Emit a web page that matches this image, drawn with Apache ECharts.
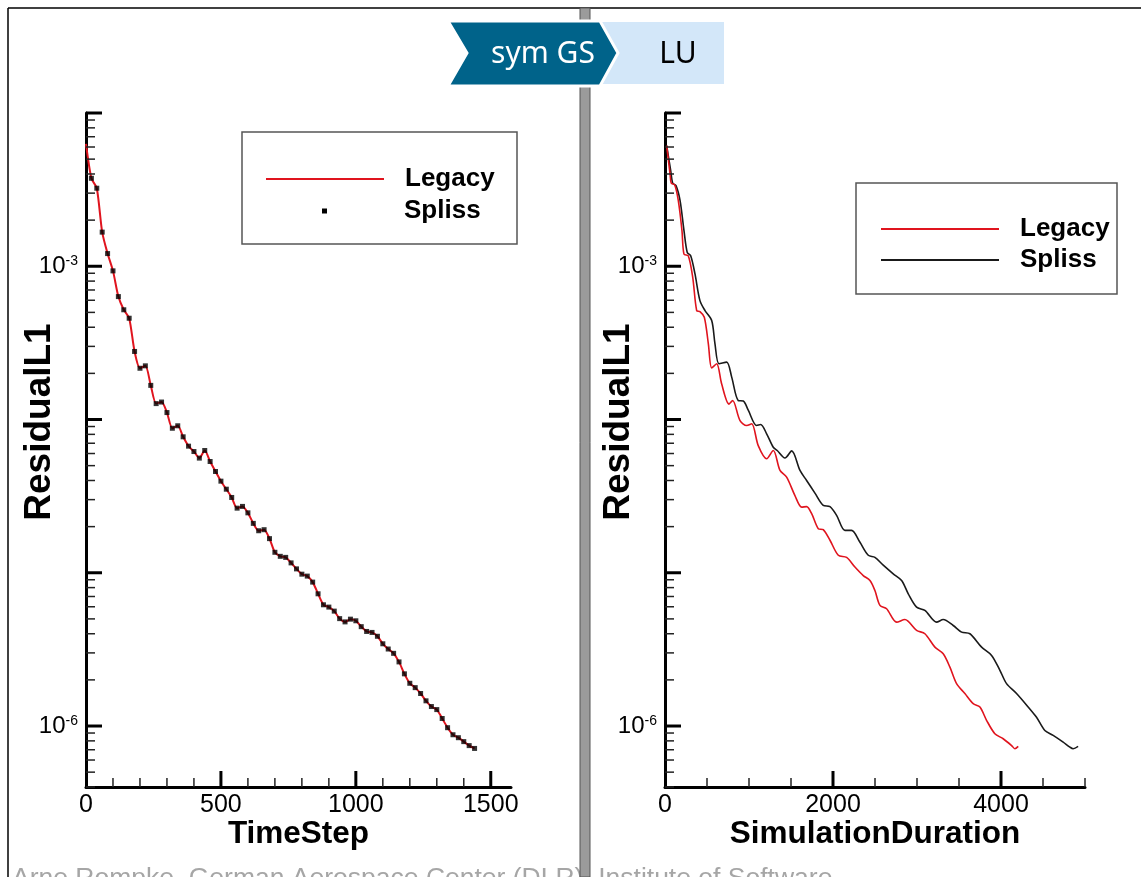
<!DOCTYPE html>
<html><head><meta charset="utf-8">
<script src="https://cdn.jsdelivr.net/npm/echarts@6/dist/echarts.min.js"></script>
<style>html,body{margin:0;padding:0;background:#fff}#c{width:1141px;height:877px}</style>
</head><body><div id="c"></div>
<script>
// ---------------- data ----------------
// Left panel: ResidualL1 vs TimeStep (Legacy line, Spliss markers every 20 steps)
const timeSteps = [0,20,40,60,80,100,120,140,160,180,200,220,240,260,280,300,320,340,360,380,400,420,440,460,480,500,520,540,560,580,600,620,640,660,680,700,720,740,760,780,800,820,840,860,880,900,920,940,960,980,1000,1020,1040,1060,1080,1100,1120,1140,1160,1180,1200,1220,1240,1260,1280,1300,1320,1340,1360,1380,1400,1420,1440];
const legacyByStep = [6.28e-3,3.75e-3,3.23e-3,1.67e-3,1.21e-3,9.33e-4,6.34e-4,5.20e-4,4.58e-4,2.78e-4,2.16e-4,2.24e-4,1.67e-4,1.27e-4,1.30e-4,1.11e-4,8.77e-5,9.10e-5,7.71e-5,6.70e-5,6.18e-5,5.60e-5,6.28e-5,5.32e-5,4.58e-5,3.96e-5,3.51e-5,3.10e-5,2.64e-5,2.71e-5,2.46e-5,2.10e-5,1.88e-5,1.91e-5,1.67e-5,1.36e-5,1.28e-5,1.26e-5,1.16e-5,1.06e-5,9.79e-6,9.51e-6,8.69e-6,7.29e-6,6.18e-6,5.97e-6,5.62e-6,5.02e-6,4.78e-6,4.98e-6,4.86e-6,4.45e-6,4.14e-6,4.08e-6,3.85e-6,3.44e-6,3.18e-6,2.98e-6,2.62e-6,2.19e-6,1.90e-6,1.78e-6,1.63e-6,1.46e-6,1.34e-6,1.28e-6,1.12e-6,9.75e-7,8.77e-7,8.39e-7,7.91e-7,7.45e-7,7.14e-7];
const splissByStep = [6.28e-3,3.75e-3,3.23e-3,1.67e-3,1.21e-3,9.33e-4,6.34e-4,5.20e-4,4.58e-4,2.78e-4,2.16e-4,2.24e-4,1.67e-4,1.27e-4,1.30e-4,1.11e-4,8.77e-5,9.10e-5,7.71e-5,6.70e-5,6.18e-5,5.60e-5,6.28e-5,5.32e-5,4.58e-5,3.96e-5,3.51e-5,3.10e-5,2.64e-5,2.71e-5,2.46e-5,2.10e-5,1.88e-5,1.91e-5,1.67e-5,1.36e-5,1.28e-5,1.26e-5,1.16e-5,1.06e-5,9.79e-6,9.51e-6,8.69e-6,7.29e-6,6.18e-6,5.97e-6,5.62e-6,5.02e-6,4.78e-6,4.98e-6,4.86e-6,4.45e-6,4.14e-6,4.08e-6,3.85e-6,3.44e-6,3.18e-6,2.98e-6,2.62e-6,2.19e-6,1.90e-6,1.78e-6,1.63e-6,1.46e-6,1.34e-6,1.28e-6,1.12e-6,9.75e-7,8.77e-7,8.39e-7,7.91e-7,7.45e-7,7.14e-7];

// Right panel: ResidualL1 vs SimulationDuration
const legacyDuration = [20,60,75,115,158,202,226,277,330,377,416,468,516,556,615,674,762,805,893,972,1032,1110,1210,1289,1369,1448,1547,1627,1686,1746,1825,1884,1964,2063,2162,2261,2360,2440,2499,2559,2638,2757,2856,2995,3094,3213,3312,3392,3471,3570,3669,3749,3828,3927,4026,4126,4165,4205];
const legacyResidual = [6.12e-3,4.01e-3,3.48e-3,3.40e-3,2.69e-3,1.71e-3,1.20e-3,1.17e-3,8.47e-4,5.14e-4,5.06e-4,4.65e-4,3.12e-4,2.17e-4,2.31e-4,1.71e-4,1.26e-4,1.33e-4,9.84e-5,9.14e-5,9.38e-5,6.76e-5,5.55e-5,6.28e-5,4.65e-5,4.21e-5,3.19e-5,2.68e-5,2.70e-5,2.43e-5,1.94e-5,1.91e-5,1.63e-5,1.30e-5,1.26e-5,1.09e-5,9.59e-6,8.91e-6,7.66e-6,6.12e-6,5.82e-6,4.76e-6,4.95e-6,4.21e-6,4.00e-6,3.27e-6,2.96e-6,2.42e-6,1.89e-6,1.63e-6,1.40e-6,1.33e-6,1.09e-6,8.91e-7,8.26e-7,7.46e-7,7.11e-7,7.36e-7];
const splissDuration = [20,68,92,131,179,226,265,306,357,416,476,556,595,643,734,794,872,932,991,1091,1139,1210,1289,1336,1428,1508,1607,1686,1785,1884,1964,2043,2142,2221,2321,2420,2499,2598,2717,2817,2896,2995,3094,3233,3312,3431,3531,3630,3769,3888,3987,4066,4185,4324,4423,4522,4621,4740,4820,4859,4918];
const splissResidual = [6.12e-3,4.21e-3,3.48e-3,3.36e-3,2.69e-3,1.71e-3,1.23e-3,1.17e-3,8.91e-4,5.97e-4,5.14e-4,4.43e-4,3.12e-4,2.31e-4,2.37e-4,1.89e-4,1.33e-4,1.32e-4,1.15e-4,9.14e-5,9.27e-5,8.07e-5,6.59e-5,6.28e-5,5.61e-5,6.24e-5,4.65e-5,4.00e-5,3.31e-5,2.75e-5,2.70e-5,2.37e-5,1.89e-5,1.89e-5,1.58e-5,1.30e-5,1.26e-5,1.12e-5,9.84e-6,8.91e-6,7.29e-6,5.97e-6,5.68e-6,4.76e-6,4.95e-6,4.53e-6,4.10e-6,4.00e-6,3.27e-6,2.89e-6,2.31e-6,1.89e-6,1.63e-6,1.33e-6,1.14e-6,9.35e-7,8.69e-7,7.85e-7,7.28e-7,7.11e-7,7.36e-7];

// Axes / ticks
const yMin = 4e-7, yMax = 1e-2;
const yDecades = [1e-6, 1e-5, 1e-4, 1e-3, 1e-2];
const yMinorMantissas = [2, 3, 4, 5, 6, 7, 8, 9];
const yLabelExponents = [-3, -6];
const leftXMax = 1575, leftXMajor = [0, 500, 1000, 1500], leftXMinorStep = 100;
const rightXMax = 5000, rightXMajor = [0, 2000, 4000], rightXMinorStep = 500;
const seriesNames = ['Legacy', 'Spliss'];

// ---------------- chart ----------------
const FONT = '"Liberation Sans", Arial, Helvetica, sans-serif';
const chart = echarts.init(document.getElementById('c'), null, {renderer: 'canvas'});

function yTickData(xPos) {
  const out = [];
  yDecades.forEach(d => out.push([xPos, d, 1, 1]));
  for (let e = -7; e <= -3; e++) {
    yMinorMantissas.forEach(m => {
      const v = m * Math.pow(10, e);
      if (v >= yMin * 0.999 && v <= yMax) out.push([xPos, v, 0, 1]);
    });
  }
  return out;
}
function xTickData(major, step, max) {
  const out = [];
  for (let v = step; v <= max + 1e-9; v += step) {
    out.push([v, yMin, major.indexOf(v) >= 0 ? 1 : 0, 0]);
  }
  return out;
}
function tickSeries(idx, data) {
  return {
    type: 'custom', xAxisIndex: idx, yAxisIndex: idx, silent: true, clip: false, z: 5,
    encode: {x: 0, y: 1}, data: data, tooltip: {show: false},
    renderItem: function (params, api) {
      const p = api.coord([api.value(0), api.value(1)]);
      const major = api.value(2) === 1, vertical = api.value(3) === 0;
      const len = major ? 16 : 9;
      return {
        type: 'line',
        shape: vertical ? {x1: p[0], y1: p[1], x2: p[0], y2: p[1] - len}
                        : {x1: p[0], y1: p[1], x2: p[0] + len, y2: p[1]},
        style: {stroke: major ? '#000' : '#222', lineWidth: major ? 3 : 1.5}
      };
    }
  };
}
function yAxisCfg(idx) {
  return {
    type: 'log', logBase: 10, gridIndex: idx, min: yMin, max: yMax,
    name: 'ResidualL1', nameLocation: 'middle', nameGap: 28, nameMoveOverlap: false,
    nameTextStyle: {fontFamily: FONT, fontSize: 37, fontWeight: 'bold', color: '#000', padding: [0, 0, 0, 56]},
    axisLine: {show: true, lineStyle: {color: '#000', width: 3}},
    axisTick: {show: false}, splitLine: {show: false}, minorTick: {show: false},
    axisLabel: {
      margin: 8, color: '#000', fontFamily: FONT,
      formatter: function (v) {
        const e = Math.round(Math.log10(v));
        if (Math.abs(Math.log10(v) - e) < 1e-6 && yLabelExponents.indexOf(e) >= 0) {
          return '{b|10}{s|' + e + '}';
        }
        return '';
      },
      rich: {
        b: {fontSize: 24, fontFamily: FONT, color: '#000'},
        s: {fontSize: 14, fontFamily: FONT, color: '#000', verticalAlign: 'top'}
      }
    }
  };
}
function xAxisCfg(idx, max, major, name) {
  return {
    type: 'value', gridIndex: idx, min: 0, max: max, interval: major[1],
    name: name, nameLocation: 'middle', nameGap: 31, nameMoveOverlap: false,
    nameTextStyle: {fontFamily: FONT, fontSize: 31.5, fontWeight: 'bold', color: '#000'},
    axisLine: {show: true, onZero: false, lineStyle: {color: '#000', width: 3}},
    axisTick: {show: false}, splitLine: {show: false},
    axisLabel: {
      margin: 6, fontSize: 25, fontFamily: FONT, color: '#000', showMaxLabel: false,
      formatter: v => (major.indexOf(v) >= 0 ? String(v) : '')
    }
  };
}

const legendText = {fontFamily: FONT, fontSize: 26, fontWeight: 'bold', color: '#000', lineHeight: 30};

const option = {
  backgroundColor: '#fff',
  animation: false,
  grid: [
    {left: 86, top: 113, width: 425, height: 674},
    {left: 665, top: 113, width: 420, height: 674}
  ],
  xAxis: [
    xAxisCfg(0, leftXMax, leftXMajor, 'TimeStep'),
    xAxisCfg(1, rightXMax, rightXMajor, 'SimulationDuration')
  ],
  yAxis: [yAxisCfg(0), yAxisCfg(1)],
  legend: [
    {data: [seriesNames[0]], orient: 'vertical', left: 265, top: 164, padding: 0,
     itemWidth: 118, itemHeight: 1, selectedMode: false,
     textStyle: Object.assign({padding: [0, 0, 0, 16]}, legendText)},
    {data: [{name: seriesNames[1], icon: 'rect', itemStyle: {color: '#000'}}], orient: 'vertical',
     left: 322, top: 196, padding: 0, itemWidth: 5, itemHeight: 5, selectedMode: false,
     textStyle: Object.assign({padding: [0, 0, 0, 72]}, legendText)},
    {data: seriesNames, orient: 'vertical', left: 880, top: 214, padding: 0,
     itemWidth: 118, itemHeight: 1, itemGap: 1, selectedMode: false,
     textStyle: Object.assign({padding: [0, 0, 0, 16]}, legendText)}
  ],
  series: [
    {name: seriesNames[0], type: 'line', xAxisIndex: 1, yAxisIndex: 1, symbol: 'none', smooth: 0.3,
     lineStyle: {color: '#e0141e', width: 1.6}, itemStyle: {color: '#e0141e'}, z: 3,
     data: legacyDuration.map((d, i) => [d, legacyResidual[i]])},
    {name: seriesNames[1], type: 'line', xAxisIndex: 1, yAxisIndex: 1, symbol: 'none', smooth: 0.3,
     lineStyle: {color: '#1a1a1a', width: 1.6}, itemStyle: {color: '#1a1a1a'}, z: 2,
     data: splissDuration.map((d, i) => [d, splissResidual[i]])},
    {name: seriesNames[0], type: 'line', xAxisIndex: 0, yAxisIndex: 0, symbol: 'none', smooth: 0.25,
     lineStyle: {color: '#e0141e', width: 2}, itemStyle: {color: '#e0141e'}, z: 2,
     data: timeSteps.map((t, i) => [t, legacyByStep[i]])},
    {name: seriesNames[1], type: 'scatter', xAxisIndex: 0, yAxisIndex: 0, symbol: 'rect', symbolSize: 5,
     itemStyle: {color: '#000'}, z: 4,
     data: timeSteps.slice(1).map((t, i) => [t, splissByStep[i + 1]])},
    tickSeries(0, yTickData(0).concat(xTickData(leftXMajor, leftXMinorStep, leftXMax))),
    tickSeries(1, yTickData(0).concat(xTickData(rightXMajor, rightXMinorStep, rightXMax)))
  ],
  graphic: [
    // legend frames
    {type: 'rect', z: 1, shape: {x: 242, y: 132, width: 275, height: 112}, style: {fill: null, stroke: '#555', lineWidth: 1.5}},
    {type: 'rect', z: 1, shape: {x: 856, y: 183, width: 261, height: 111}, style: {fill: null, stroke: '#555', lineWidth: 1.5}},
    // slide frame
    {type: 'line', z: 1, shape: {x1: 8, y1: 8, x2: 1141, y2: 8}, style: {stroke: '#000', lineWidth: 1.5}},
    {type: 'line', z: 1, shape: {x1: 8, y1: 8, x2: 8, y2: 877}, style: {stroke: '#000', lineWidth: 1.5}},
    // footer
    {type: 'text', z: 1, style: {x: 12, y: 865, text: 'Arne Rompke, German Aerospace Center (DLR), Institute of Software',
      font: '26.5px ' + FONT, fill: '#a6a6a6', verticalAlign: 'top'}},
    // divider bar
    {type: 'rect', z: 8, shape: {x: 580, y: 8, width: 10, height: 869}, style: {fill: '#9b9b9b', stroke: '#555', lineWidth: 1}},
    // banner
    {type: 'rect', z: 10, shape: {x: 596, y: 22, width: 128, height: 62}, style: {fill: '#d3e7f9'}},
    {type: 'polygon', z: 11, shape: {points: [[448, 21], [600, 21], [618, 53], [600, 86], [448, 86], [467, 53]]},
      style: {fill: '#00638a', stroke: '#fff', lineWidth: 3}},
    {type: 'text', z: 12, style: {x: 543, y: 54, text: 'sym GS', font: '30px "Noto Sans", "Open Sans", sans-serif',
      fill: '#fff', align: 'center', verticalAlign: 'middle'}},
    {type: 'text', z: 12, style: {x: 678, y: 54, text: 'LU', font: '30px "Noto Sans", "Open Sans", sans-serif',
      fill: '#000', align: 'center', verticalAlign: 'middle'}}
  ]
};
chart.setOption(option);
</script></body></html>
